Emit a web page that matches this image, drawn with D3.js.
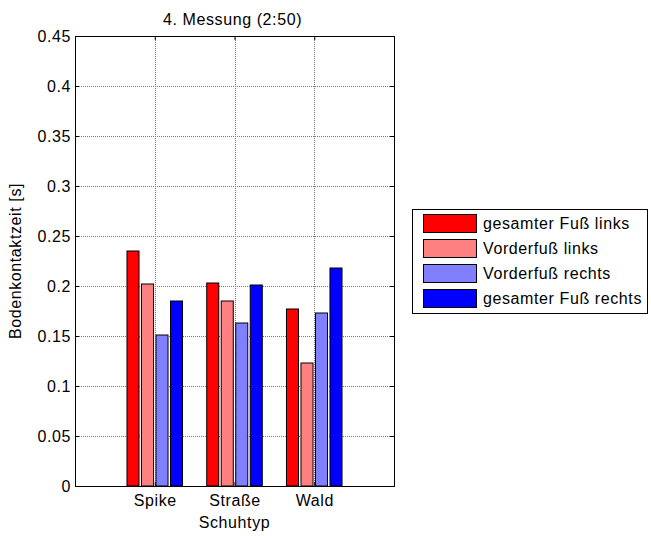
<!DOCTYPE html>
<html>
<head>
<meta charset="utf-8">
<script src="https://cdn.jsdelivr.net/npm/d3@7"></script>
<style>
  body { margin: 0; background: #fff; }
  svg text { font-family: "Liberation Sans", Arial, sans-serif; fill: #000; }
</style>
</head>
<body>
<svg id="chart" width="651" height="536"></svg>
<script>
// Ground contact time per shoe type, 4th measurement
const categories = ["Spike", "Straße", "Wald"];
const seriesNames = ["gesamter Fuß links", "Vorderfuß links", "Vorderfuß rechts", "gesamter Fuß rechts"];
const gesamtLinks  = [0.235, 0.203, 0.177];
const vorderLinks  = [0.202, 0.185, 0.123];
const vorderRechts = [0.151, 0.163, 0.173];
const gesamtRechts = [0.185, 0.201, 0.218];
const seriesValues = [gesamtLinks, vorderLinks, vorderRechts, gesamtRechts];
const seriesColors = ["#ff0000", "#ff8080", "#8080ff", "#0000ff"];
const yTicks = [0, 0.05, 0.1, 0.15, 0.2, 0.25, 0.3, 0.35, 0.4, 0.45];
const xTicks = [1, 2, 3];
const titleText = "4. Messung (2:50)";
const xLabel = "Schuhtyp";
const yLabel = "Bodenkontaktzeit [s]";

const svg = d3.select("#chart");
const plot = { left: 75, right: 394, top: 36, bottom: 486 };

const x = d3.scaleLinear().domain([0, 4]).range([plot.left, plot.right]);
const y = d3.scaleLinear().domain([0, 0.45]).range([plot.bottom, plot.top]);
const inner = d3.scaleBand().domain(d3.range(seriesNames.length))
  .range([-29, 29]).paddingInner(0.17).paddingOuter(0.085);

const fontSize = 16;
const ls = "0.6px";

// dotted grid
const grid = svg.append("g").attr("stroke", "#7a7a7a").attr("stroke-dasharray", "1,1").attr("stroke-width", 1);
yTicks.slice(1, -1).forEach(t => {
  grid.append("line").attr("x1", plot.left).attr("x2", plot.right)
    .attr("y1", Math.round(y(t)) + 0.5).attr("y2", Math.round(y(t)) + 0.5);
});
xTicks.forEach(t => {
  grid.append("line").attr("y1", plot.top).attr("y2", plot.bottom)
    .attr("x1", Math.round(x(t)) + 0.5).attr("x2", Math.round(x(t)) + 0.5);
});

// bars
const bars = svg.append("g");
seriesValues.forEach((vals, si) => {
  bars.selectAll(null).data(vals).enter().append("rect")
    .attr("x", (d, i) => x(i + 1) + inner(si))
    .attr("width", inner.bandwidth())
    .attr("y", d => y(d))
    .attr("height", d => y(0) - y(d))
    .attr("fill", seriesColors[si])
    .attr("stroke", "#000")
    .attr("stroke-width", 1);
});

// axes (ticks inside, MATLAB style box)
const tickLen = 4;
const leftAxis = d3.axisLeft(y).tickValues(yTicks).tickSize(-tickLen).tickPadding(4)
  .tickFormat(d3.format("~g"));
const gl = svg.append("g").attr("transform", `translate(${plot.left},0)`).call(leftAxis);
const rightAxis = d3.axisRight(y).tickValues(yTicks).tickSize(-tickLen).tickFormat("");
const gr = svg.append("g").attr("transform", `translate(${plot.right},0)`).call(rightAxis);
const bottomAxis = d3.axisBottom(x).tickValues(xTicks).tickSize(-tickLen).tickPadding(9)
  .tickFormat((d, i) => categories[i]);
const gb = svg.append("g").attr("transform", `translate(0,${plot.bottom})`).call(bottomAxis);
const topAxis = d3.axisTop(x).tickValues(xTicks).tickSize(-tickLen).tickFormat("");
const gt = svg.append("g").attr("transform", `translate(0,${plot.top})`).call(topAxis);

[gl, gr, gb, gt].forEach(g => {
  g.select(".domain").remove();
  g.selectAll(".tick line").attr("stroke", "#000");
  g.selectAll("text").attr("font-size", fontSize).attr("letter-spacing", ls)
    .attr("font-family", "Liberation Sans, Arial, sans-serif").attr("fill", "#000");
});

// axis box
svg.append("rect").attr("x", plot.left + 0.5).attr("y", plot.top + 0.5)
  .attr("width", plot.right - plot.left).attr("height", plot.bottom - plot.top)
  .attr("fill", "none").attr("stroke", "#000").attr("stroke-width", 1);

// title and labels
svg.append("text").attr("x", (plot.left + plot.right) / 2 - 2).attr("y", 25)
  .attr("text-anchor", "middle").attr("font-size", fontSize).attr("letter-spacing", ls).text(titleText);
svg.append("text").attr("x", x(2)).attr("y", 528)
  .attr("text-anchor", "middle").attr("font-size", fontSize).attr("letter-spacing", ls).text(xLabel);
svg.append("text").attr("transform", `translate(21,${(plot.top + plot.bottom) / 2}) rotate(-90)`)
  .attr("text-anchor", "middle").attr("font-size", fontSize).attr("letter-spacing", ls).text(yLabel);

// legend
const lg = svg.append("g");
lg.append("rect").attr("x", 412.5).attr("y", 209.5).attr("width", 235).attr("height", 104)
  .attr("fill", "#fff").attr("stroke", "#000");
seriesNames.forEach((name, i) => {
  const yy = 214 + i * 25;
  lg.append("rect").attr("x", 423.5).attr("y", yy + 0.5).attr("width", 53).attr("height", 18)
    .attr("fill", seriesColors[i]).attr("stroke", "#000");
  lg.append("text").attr("x", 483).attr("y", yy + 15).attr("font-size", fontSize)
    .attr("letter-spacing", ls).text(name);
});
</script>
</body>
</html>
